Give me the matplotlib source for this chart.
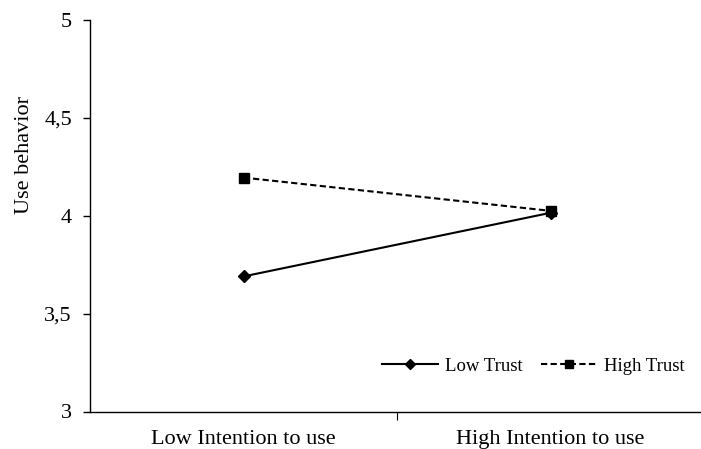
import matplotlib.pyplot as plt
from matplotlib.ticker import FuncFormatter

# data
categories = ['Low Intention to use', 'High Intention to use']
low_trust = [3.69, 4.015]
high_trust = [4.195, 4.025]
y_ticks = [3, 3.5, 4, 4.5, 5]

plt.rcParams['font.family'] = ['Liberation Serif', 'DejaVu Serif']

fig = plt.figure(figsize=(7.01, 4.49), dpi=100)
ax = fig.add_axes([90 / 701, 37.5 / 449, 614 / 701, 391.5 / 449])

x = [0.5, 1.5]
ax.plot(x, low_trust, color='black', linestyle='-', linewidth=1.5,
        marker='D', markersize=6.5, label='Low Trust')
ax.plot(x, high_trust, color='black', linestyle=(0, (3, 1.6)), linewidth=1.5,
        marker='s', markersize=7.5, label='High Trust')

ax.set_xlim(0, 2)
ax.set_ylim(3, 5)
ax.set_yticks(y_ticks)
ax.yaxis.set_major_formatter(FuncFormatter(lambda v, p: ('%g' % v).replace('.', ',')))
ax.tick_params(axis='y', labelsize=16, length=5, width=1, direction='out', pad=8)

# one divider tick between the two categories, labels centred under each
ax.set_xticks([1])
ax.set_xticklabels([''])
ax.tick_params(axis='x', which='major', length=6, width=0.8, direction='out')
ax.set_xticks(x, minor=True)
ax.set_xticklabels(categories, minor=True)
ax.tick_params(axis='x', which='minor', length=0, labelsize=16, pad=13)

ax.spines['top'].set_visible(False)
ax.spines['right'].set_visible(False)
ax.spines['left'].set_linewidth(1)
ax.spines['bottom'].set_linewidth(1)

ax.set_ylabel('Use behavior', fontsize=16)
ax.yaxis.set_label_coords(-0.091, 0.655)

ax.legend(loc='center', bbox_to_anchor=(0.722, 0.115), ncol=2, frameon=False,
          fontsize=13.5, handlelength=3.0, handletextpad=0.37, columnspacing=1.0,
          markerscale=0.75)

fig.savefig('out.png', dpi=100)
